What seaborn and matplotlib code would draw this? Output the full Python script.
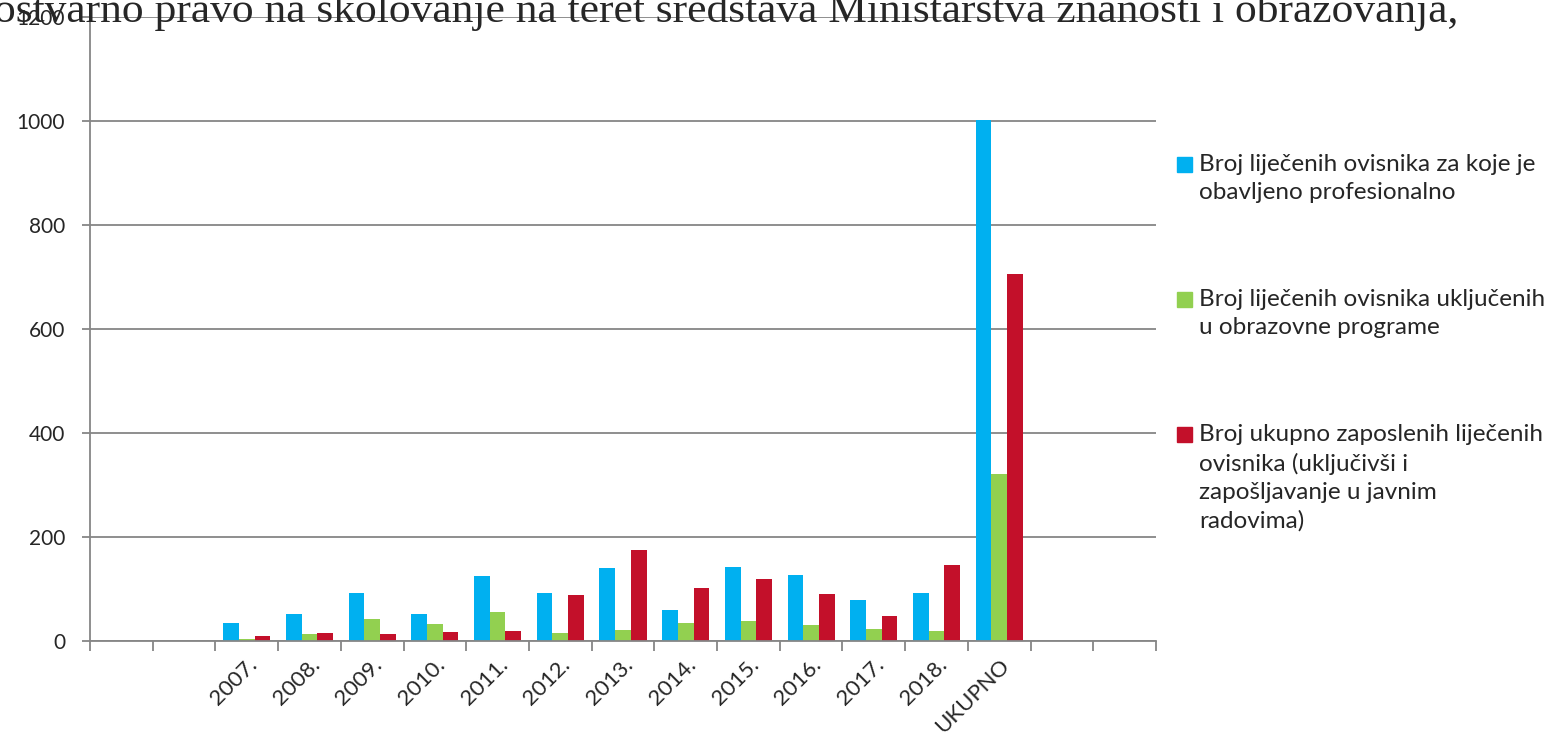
import numpy as np
import pandas as pd
import matplotlib
matplotlib.use("Agg")
import matplotlib.pyplot as plt
import matplotlib.patches as mpatches
import seaborn as sns

# categories (empty slots at both ends like the original Excel chart)
years = ['2007.', '2008.', '2009.', '2010.', '2011.', '2012.', '2013.',
         '2014.', '2015.', '2016.', '2017.', '2018.', 'UKUPNO']
blanks_left = [' ', '  ']
blanks_right = ['   ', '    ']

profesionalno = [35, 52, 92, 51, 125, 93, 141, 60, 143, 127, 79, 93, 1002]
obrazovni = [4, 13, 42, 33, 56, 15, 22, 35, 39, 31, 24, 20, 322]
zaposleni = [10, 15, 14, 18, 20, 88, 175, 101, 119, 91, 49, 146, 705]

series_names = [
    'Broj liječenih ovisnika za koje je\nobavljeno profesionalno',
    'Broj liječenih ovisnika uključenih\nu obrazovne programe',
    'Broj ukupno zaposlenih liječenih\novisnika (uključivši i\nzapošljavanje u javnim\nradovima)',
]
colors = ['#00B0F0', '#92D050', '#C3102A']

y_ticks = [0, 200, 400, 600, 800, 1000, 1200]

df = pd.DataFrame({
    'kategorija': years * 3,
    'vrijednost': profesionalno + obrazovni + zaposleni,
    'serija': [series_names[0]] * len(years) + [series_names[1]] * len(years)
              + [series_names[2]] * len(years),
})

sns.set_style('white')
plt.rcParams['font.family'] = ['Lato', 'DejaVu Sans']

W, H = 1562, 743
fig = plt.figure(figsize=(W / 100, H / 100), dpi=100)
ax = fig.add_axes([90 / W, 1 - 641 / H, (1156 - 90) / W, (641 - 17) / H])

order = blanks_left + years + blanks_right
sns.barplot(data=df, x='kategorija', y='vrijednost', hue='serija', order=order,
            palette=colors, width=0.75, saturation=1, linewidth=0, ax=ax, legend=False)

ax.set_ylim(0, 1200)
ax.set_xlim(-0.5, len(order) - 0.5)
ax.set_yticks(y_ticks)
ax.set_yticklabels([str(v) for v in y_ticks], fontsize=15)
ax.yaxis.grid(True, color='#868686', linewidth=1.3)
ax.set_axisbelow(True)
ax.set_xlabel('')
ax.set_ylabel('')

# labels at category centres, tick marks between categories
ax.set_xticks(range(len(order)))
ax.set_xticklabels(order, rotation=45, ha='right', rotation_mode='anchor', fontsize=16)
ax.tick_params(axis='x', which='major', length=0, pad=10)
ax.set_xticks(np.arange(-0.5, len(order)), minor=True)
ax.tick_params(axis='x', which='minor', bottom=True, length=7, color='#868686', width=1.3)
ax.tick_params(axis='y', length=6, color='#868686', width=1.3, left=True, pad=12)

for side in ['top', 'right']:
    ax.spines[side].set_visible(False)
for side in ['left', 'bottom']:
    ax.spines[side].set_color('#868686')
    ax.spines[side].set_linewidth(1.3)

# legend drawn by hand: square aligned with first text line
legend_tops = [157, 292, 427]
for name, col, top in zip(series_names, colors, legend_tops):
    fig.patches.append(mpatches.Rectangle((1177 / W, 1 - (top + 15) / H), 15 / W, 15 / H,
                                          transform=fig.transFigure, color=col))
    fig.text(1199 / W, 1 - (top - 3) / H, name, fontsize=17.5, ha='left', va='top',
             linespacing=1.42)

fig.text(-0.004, 1 - 22 / H,
         'ostvarno pravo na školovanje na teret sredstava Ministarstva znanosti i obrazovanja,',
         family=['Liberation Serif', 'DejaVu Serif'], fontsize=31.3, va='baseline', ha='left')

fig.savefig('out.png', dpi=100)
